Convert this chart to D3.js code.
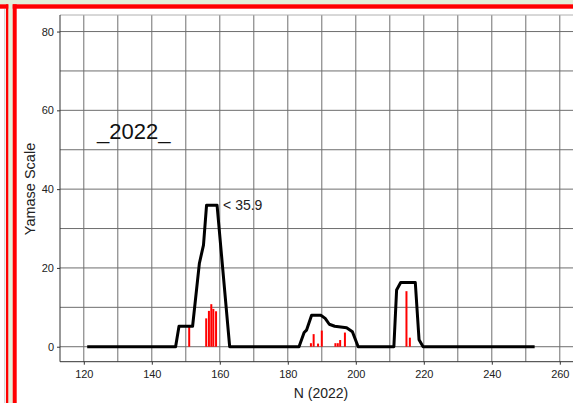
<!DOCTYPE html>
<html>
<head>
<meta charset="utf-8">
<script src="https://cdn.jsdelivr.net/npm/d3@7"></script>
<style>
  html, body { margin: 0; padding: 0; background: #ffffff; }
  svg { display: block; }
  text { font-family: "Liberation Sans", Arial, sans-serif; }
</style>
</head>
<body>
<svg id="chart" width="573" height="403"></svg>
<script>
// Yamase index envelope (black line) by day number N in 2022
const lineN = [121, 147, 148, 152, 154, 155.2, 156.1, 159.2, 162.9,
               183.3, 184.8, 185.5, 187, 189.7, 191, 192.2, 193.8, 197.3, 199, 200.7,
               211.2, 212, 213.2, 217.5, 218.6, 219.8, 252.6];
const lineValues = [0, 0, 5.2, 5.2, 21.2, 25.8, 35.9, 35.9, 0,
                    0, 3.6, 4.2, 8, 8, 7.2, 5.7, 5.2, 4.8, 3.8, 0,
                    0, 14.4, 16.3, 16.3, 1.8, 0, 0];

// Individual Yamase events (red spikes)
const barN = [151, 156, 156.8, 157.5, 158.1, 158.9,
              186.8, 187.6, 188.9, 190,
              194, 194.7, 195.4, 196.8,
              214.9, 215.9];
const barValues = [5.2, 7.2, 9.1, 10.8, 9.6, 9.0,
                   0.9, 3.2, 0.8, 4.1,
                   0.9, 0.9, 1.7, 3.6,
                   14.1, 2.3];

const xTicks = [120, 140, 160, 180, 200, 220, 240, 260];
const yTicks = [0, 20, 40, 60, 80];
const peakLabel = "< 35.9";
const yearLabel = "_2022_";

const svg = d3.select("#chart");
const W = 573, H = 403;

// page frame: green cell background with red borders
svg.append("rect").attr("x", 0).attr("y", 0).attr("width", W).attr("height", 4.5).attr("fill", "#e2efd9");
svg.append("rect").attr("x", 8.3).attr("y", 0).attr("width", 4.4).attr("height", H).attr("fill", "#e2efd9");
svg.append("line").attr("x1", 4.8).attr("x2", 4.8).attr("y1", 8.7).attr("y2", H).attr("stroke", "#c8c8c8").attr("stroke-width", 1);
svg.append("rect").attr("x", 0).attr("y", 4.3).attr("width", 8.3).attr("height", 4.4).attr("fill", "#ff0000");
svg.append("rect").attr("x", 6).attr("y", 4.3).attr("width", 2.3).attr("height", H).attr("fill", "#ff0000");
svg.append("rect").attr("x", 12.7).attr("y", 4.3).attr("width", W).attr("height", 4.4).attr("fill", "#ff0000");
svg.append("rect").attr("x", 12.7).attr("y", 4.3).attr("width", 4).attr("height", H).attr("fill", "#ff0000");

// plot region
const plotLeft = 60, plotTop = 15, plotBottom = 361.7, plotRight = 600;
const x = d3.scaleLinear().domain([113, 113 + (plotRight - plotLeft) / 3.4]).range([plotLeft, plotRight]);
const y = d3.scaleLinear().domain([-3.8, 84.2]).range([plotBottom, plotTop]);

const g = svg.append("g");
const gridColor = "#6e6e6e";

// vertical grid every 10
d3.range(120, 271, 10).forEach(v => {
  g.append("line").attr("x1", x(v)).attr("x2", x(v)).attr("y1", plotTop).attr("y2", plotBottom)
    .attr("stroke", gridColor).attr("stroke-width", 1);
});
// horizontal grid every 10
d3.range(0, 81, 10).forEach(v => {
  g.append("line").attr("x1", plotLeft).attr("x2", W).attr("y1", y(v)).attr("y2", y(v))
    .attr("stroke", gridColor).attr("stroke-width", 1);
});
g.append("line").attr("x1", plotLeft).attr("x2", W).attr("y1", plotTop).attr("y2", plotTop)
  .attr("stroke", "#b0b0b0").attr("stroke-width", 1);

// axes
const xAxis = d3.axisBottom(x).tickValues(xTicks).tickSize(3).tickPadding(6).tickFormat(d3.format("d"));
const yAxis = d3.axisLeft(y).tickValues(yTicks).tickSize(3).tickPadding(3).tickFormat(d3.format("d"));

const gx = svg.append("g").attr("transform", `translate(0,${plotBottom})`).call(xAxis);
gx.select(".domain").remove();
svg.append("line").attr("x1", plotLeft).attr("x2", W).attr("y1", plotBottom).attr("y2", plotBottom)
  .attr("stroke", "#333").attr("stroke-width", 1);
gx.selectAll(".tick line").attr("stroke", "#333");
gx.selectAll(".tick text").attr("font-size", 11).attr("fill", "#222")
  .style("font-family", "'Liberation Sans', Arial, sans-serif");

const gy = svg.append("g").attr("transform", `translate(${plotLeft},0)`).call(yAxis);
gy.select(".domain").remove();
svg.append("line").attr("x1", plotLeft).attr("x2", plotLeft).attr("y1", plotTop).attr("y2", plotBottom)
  .attr("stroke", "#333").attr("stroke-width", 1);
gy.selectAll(".tick line").attr("stroke", "#333");
gy.selectAll(".tick text").attr("font-size", 11).attr("fill", "#222")
  .style("font-family", "'Liberation Sans', Arial, sans-serif");

// axis titles
svg.append("text").attr("x", 321).attr("y", 398).attr("text-anchor", "middle")
  .attr("font-size", 14).attr("fill", "#222").text("N (2022)");
svg.append("text").attr("transform", "translate(35,189) rotate(-90)").attr("text-anchor", "middle")
  .attr("font-size", 14.5).attr("fill", "#222").text("Yamase Scale");

// red event spikes
g.selectAll("line.bar").data(barN).enter().append("line").attr("class", "bar")
  .attr("x1", d => x(d)).attr("x2", d => x(d))
  .attr("y1", y(0)).attr("y2", (d, i) => y(barValues[i]))
  .attr("stroke", "#ff0000").attr("stroke-width", 2);

// black envelope line
const line = d3.line().x(d => x(d[0])).y(d => y(d[1]));
g.append("path").datum(lineN.map((n, i) => [n, lineValues[i]]))
  .attr("d", line).attr("fill", "none").attr("stroke", "#000")
  .attr("stroke-width", 3).attr("stroke-linejoin", "round");

// annotations
const peakIdx = lineValues.indexOf(d3.max(lineValues));
svg.append("text").attr("x", x(lineN[peakIdx + 1]) + 6).attr("y", y(35.9) + 5)
  .attr("font-size", 14).attr("fill", "#222").text(peakLabel);
svg.append("text").attr("x", 97).attr("y", 139)
  .attr("font-size", 22).attr("fill", "#111").text(yearLabel);
</script>
</body>
</html>
